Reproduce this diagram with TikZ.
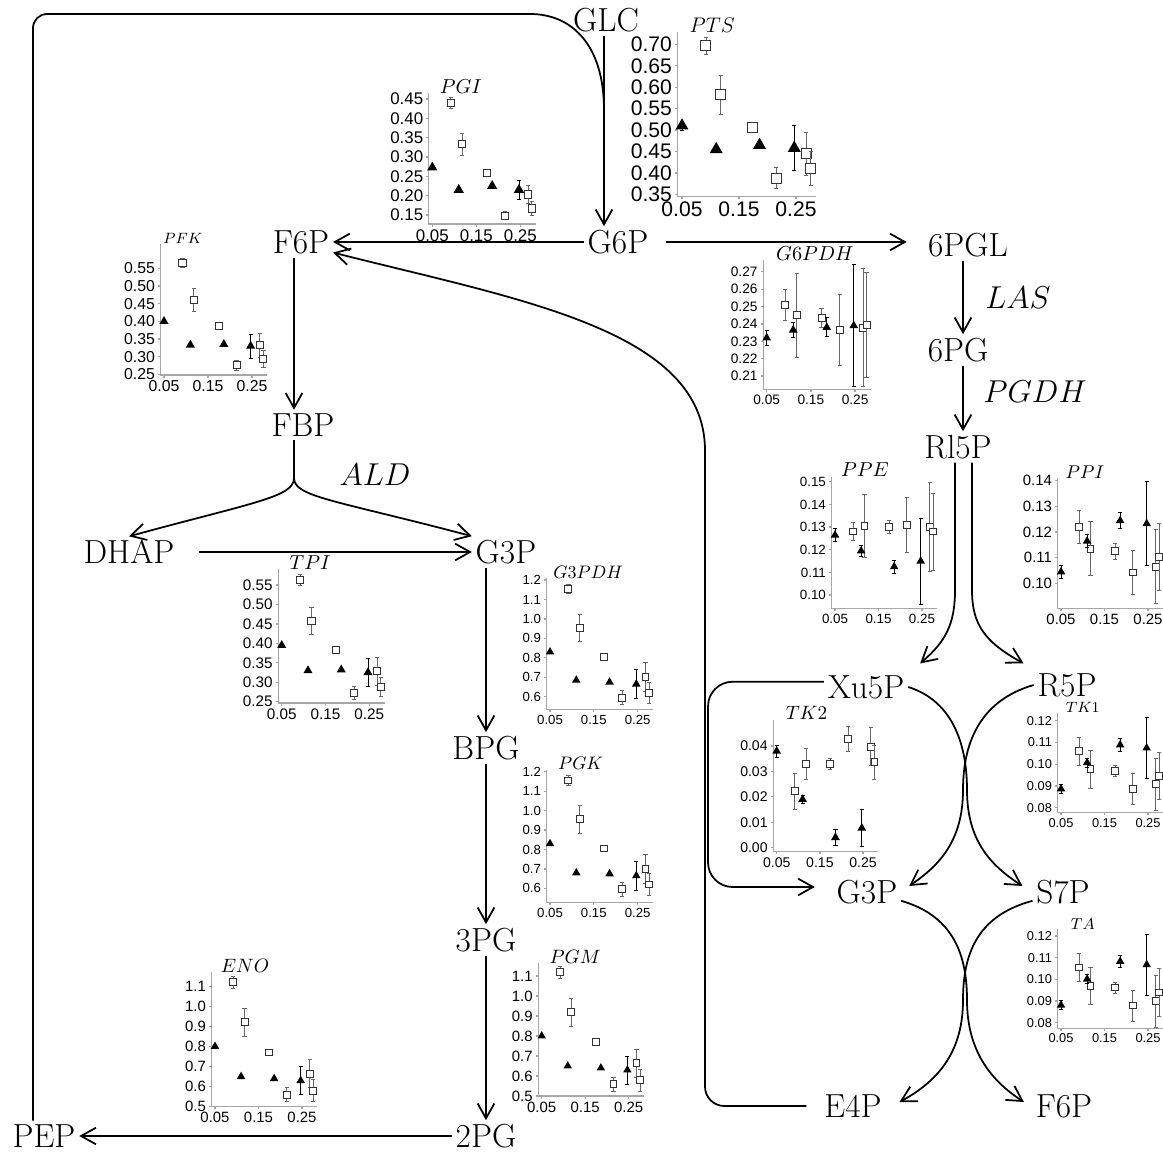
\documentclass[tikz,border=0pt]{standalone}
\usepackage{fix-cm}
\usepackage{fontspec}
\newfontfamily\lblfont{Liberation Sans}
\usetikzlibrary{arrows.meta,shapes.geometric,positioning}

% one small flux plot, drawn in its own scope (x: 0.05 -> 0, 0.1 per unit; y: data value)
\newcommand{\enzsize}[4]{\def\lblsize{#1}\def\sqsize{#2}\def\trisize{#3}\def\ttlsize{#4}}
\newcommand{\enzframe}[5]{%
  \draw[axis] (-0.08,#2) -- (-0.08,#1) -- (2.35,#1);
  \foreach \t in {#3}{%
    \draw[axis] (-0.08,\t) -- ++(-1.5pt,0);
    \node[ylbl] at (-0.08,\t) {\t};
  }
  \node[ttl] (#4) at (#5,#2) {$#4$};
}
\newcommand{\enzxlbl}[1]{%
  \foreach \u/\l in {0/0.05,1/0.15,2/0.25}{%
    \draw[axis] (\u,#1) -- ++(0,-1.5pt);
    \node[xlbl] at (\u,#1) {\l};
  }
}
\newcommand{\enzdata}[2]{%
  \foreach \u/\v/\e in {#1}{%
    \draw[sqbar] (\u,\v-\e) -- (\u,\v+\e)
      (\u,\v-\e) ++(-1.2pt,0) -- ++(2.4pt,0)
      (\u,\v+\e) ++(-1.2pt,0) -- ++(2.4pt,0);
    \node[sqmark] at (\u,\v) {};
  }
  \foreach \u/\v/\e in {#2}{%
    \draw[tribar] (\u,\v-\e) -- (\u,\v+\e)
      (\u,\v-\e) ++(-1.2pt,0) -- ++(2.4pt,0)
      (\u,\v+\e) ++(-1.2pt,0) -- ++(2.4pt,0);
    \node[trimark] at (\u,\v) {};
  }
}

\begin{document}
\begin{tikzpicture}[
    x=0.02cm, y=-0.02cm,
    met/.style={font=\fontsize{19}{22}\selectfont, inner sep=2pt},
    enz/.style={font=\fontsize{18}{20}\selectfont},
    line/.style={line width=1pt},
    flow/.style={line, -{Straight Barb[length=8.5pt,width=9.5pt]}},
    axis/.style={gray!70, line width=0.7pt},
    ylbl/.style={anchor=east, inner sep=0.5pt, xshift=-2.5pt,
                 font=\lblfont\fontsize{\lblsize}{\lblsize}\selectfont},
    xlbl/.style={anchor=north, inner sep=0.5pt, yshift=-2.5pt,
                 font=\lblfont\fontsize{\lblsize}{\lblsize}\selectfont},
    ttl/.style={anchor=base, inner sep=0pt, font=\fontsize{\ttlsize}{\ttlsize}\selectfont},
    sqmark/.style={rectangle, draw=black!80, fill=white, line width=0.55pt,
                   inner sep=0pt, minimum size=\sqsize},
    trimark/.style={regular polygon, regular polygon sides=3, fill=black,
                    inner sep=0pt, minimum size=\trisize},
    sqbar/.style={black!60, line width=0.5pt},
    tribar/.style={black, line width=0.5pt}
]
    \useasboundingbox (0,0) rectangle (1163,1155);

    % metabolites
    \node[met] (glc) at (606,20) {GLC};
    \node[met] (g6p) at (618,242) {G6P};
    \node[met] (f6p) at (301,242) {F6P};
    \node[met] (pgl) at (968,245) {6PGL};
    \node[met] (pg) at (958,350) {6PG};
    \node[met] (rl5p) at (958,447) {Rl5P};
    \node[met] (fbp) at (303,425) {FBP};
    \node[met] (dhap) at (129,552) {DHAP};
    \node[met] (g3p) at (506,552) {G3P};
    \node[met] (bpg) at (486,748) {BPG};
    \node[met] (pg3) at (486,940) {3PG};
    \node[met] (pg2) at (486,1136) {2PG};
    \node[met] (pep) at (44,1136) {PEP};
    \node[met] (xu5p) at (866,687) {Xu5P};
    \node[met] (r5p) at (1067,685) {R5P};
    \node[met] (g3pb) at (867,892) {G3P};
    \node[met] (s7p) at (1063,892) {S7P};
    \node[met] (e4p) at (853,1106) {E4P};
    \node[met] (f6pb) at (1064,1106) {F6P};

    % enzymes on the main path
    \node[enz] (las) at (1018,298) {$LAS$};
    \node[enz] (pgdh) at (1035,392) {$PGDH$};
    \node[enz] (ald) at (375,475) {$ALD$};

    % helper points
    \coordinate (corner) at (33,14);
    \coordinate (bend) at (530,14);
    \coordinate (merge) at (604,110);
    \coordinate (glyx) at (294,0);
    \coordinate (split) at (294,478);
    \coordinate (ppx) at (963,0);
    \coordinate (ppl) at (955,590);
    \coordinate (ppr) at (972,590);
    \coordinate (tkx) at (708,790);
    \coordinate (rail) at (705,470);

    % glycolysis
    \draw[flow] (glc.south -| merge) -- (g6p.north -| merge);
    \draw[line, rounded corners=8pt] (pep.north -| corner) -- (corner) -- (bend);
    \draw[line] (bend) .. controls (572,14) and (604,45) .. (merge);
    \draw[flow] (g6p) -- (f6p);
    \draw[flow, shorten <=8pt, shorten >=10pt] (g6p.east) -- (g6p.east -| pgl.west);
    \draw[flow] (f6p.south -| glyx) -- (fbp.north -| glyx);
    \draw[line] (fbp.south -| glyx) -- (split);
    \draw[flow] (split) .. controls (294,497) and (255,502) .. (dhap.north);
    \draw[flow] (split) .. controls (294,497) and (335,500) .. (g3p.north west);
    \draw[flow, shorten <=12pt] (dhap) -- (g3p);
    \draw[flow] (g3p.south -| bpg) -- (bpg);
    \draw[flow] (bpg) -- (pg3);
    \draw[flow] (pg3) -- (pg2);
    \draw[flow] (pg2) -- (pep);

    % pentose phosphate
    \draw[flow] (pgl.south -| ppx) -- (pg.north -| ppx);
    \draw[flow] (pg.south -| ppx) -- (rl5p.north -| ppx);
    \draw[flow] (rl5p.south -| ppl) -- (ppl) .. controls (955,625) and (945,642)
        .. ([shift={(12,-8)}]xu5p.north east);
    \draw[flow] (rl5p.south -| ppr) -- (ppr) .. controls (972,625) and (985,642)
        .. ([shift={(-10,-6)}]r5p.north west);
    \draw[flow] (xu5p.east) .. controls (950,700) and (967,740) .. (967,790)
        .. controls (967,840) and (990,865) .. ([shift={(-10,-6)}]s7p.west);
    \draw[flow] (r5p.west) .. controls (982,700) and (963,740) .. (963,790)
        .. controls (963,840) and (940,865) .. ([shift={(8,-6)}]g3pb.east);
    \draw[flow] ([yshift=-5pt]g3pb.east) .. controls (950,915) and (967,950) .. (967,1000)
        .. controls (967,1050) and (990,1080) .. ([shift={(-8,-4)}]f6pb.west);
    \draw[flow] ([yshift=-5pt]s7p.west) .. controls (980,915) and (963,950) .. (963,1000)
        .. controls (963,1050) and (940,1080) .. ([shift={(14,-4)}]e4p.east);
    \draw[flow, rounded corners=14pt] ([yshift=3pt]xu5p.west) -| (tkx)
        |- ([shift={(-18,-5)}]g3pb.west);
    \draw[flow, shorten <=8pt] (e4p.west) [rounded corners=11pt] -| (rail) [sharp corners]
        .. controls (705,330) and (520,300) .. ([yshift=-6pt]f6p.east);

    % PTS
    \begin{scope}[shift={(682,344.3)}, x=1.14cm, y=8.572cm]
        \enzsize{12pt}{5.7pt}{8.5pt}{12pt}
        \enzframe{0.345}{0.728}{0.35,0.40,0.45,0.50,0.55,0.60,0.65,0.70}{PTS}{0.53}
        \enzxlbl{0.345}
        \enzdata{0.42/0.697/0.02, 0.68/0.582/0.045, 1.24/0.505/0.01, 1.65/0.388/0.025,
                 2.18/0.445/0.05, 2.26/0.41/0.04}
                {0/0.51/0.01, 0.6/0.455/0, 1.36/0.465/0.008, 1.97/0.458/0.052}
    \end{scope}

    % PGI
    \begin{scope}[shift={(432.3,273)}, x=0.88cm, y=7.734cm]
        \enzsize{9.6pt}{4.2pt}{6.8pt}{11.5pt}
        \enzframe{0.127}{0.465}{0.15,0.20,0.25,0.30,0.35,0.40,0.45}{PGI}{0.65}
        \enzxlbl{0.127}
        \enzdata{0.42/0.44/0.015, 0.68/0.333/0.028, 1.24/0.258/0, 1.65/0.148/0.01,
                 2.18/0.203/0.023, 2.26/0.167/0.018}
                {0/0.273/0, 0.6/0.215/0, 1.36/0.225/0, 1.97/0.215/0.025}
    \end{scope}

    % PFK
    \begin{scope}[shift={(164,462.6)}, x=0.88cm, y=7.066cm]
        \enzsize{9pt}{4pt}{6pt}{8.5pt}
        \enzframe{0.248}{0.62}{0.25,0.30,0.35,0.40,0.45,0.50,0.55}{PFK}{0.43}
        \enzxlbl{0.248}
        \enzdata{0.42/0.565/0.013, 0.68/0.46/0.033, 1.24/0.387/0.005, 1.65/0.275/0.015,
                 2.18/0.332/0.034, 2.26/0.293/0.024}
                {0/0.40/0, 0.6/0.333/0, 1.36/0.335/0, 1.97/0.33/0.034}
    \end{scope}

    % G6PDH
    \begin{scope}[shift={(766.7,741.2)}, x=0.884cm, y=34.78cm]
        \enzsize{7.8pt}{4pt}{5.8pt}{11.5pt}
        \enzframe{0.2024}{0.2767}{0.21,0.22,0.23,0.24,0.25,0.26,0.27}{G6PDH}{1.09}
        \enzxlbl{0.2024}
        \enzdata{0.42/0.251/0.009, 0.68/0.245/0.024, 1.24/0.2435/0.0055, 1.65/0.2365/0.0205,
                 2.18/0.2378/0.034, 2.26/0.2395/0.030}
                {0/0.232/0.0045, 0.6/0.2365/0.0045, 1.36/0.238/0.0055, 1.97/0.239/0.035}
    \end{scope}

    % TPI
    \begin{scope}[shift={(281.7,798.9)}, x=0.876cm, y=7.778cm]
        \enzsize{8.7pt}{4pt}{6pt}{11.5pt}
        \enzframe{0.2466}{0.59}{0.25,0.30,0.35,0.40,0.45,0.50,0.55}{TPI}{0.65}
        \enzxlbl{0.2466}
        \enzdata{0.42/0.563/0.013, 0.68/0.457/0.035, 1.24/0.383/0, 1.65/0.272/0.017,
                 2.18/0.328/0.035, 2.26/0.288/0.025}
                {0/0.395/0, 0.6/0.33/0, 1.36/0.332/0, 1.97/0.325/0.035}
    \end{scope}

    % G3PDH
    \begin{scope}[shift={(550,813.3)}, x=0.876cm, y=3.888cm]
        \enzsize{7.5pt}{3.9pt}{5.6pt}{10.3pt}
        \enzframe{0.535}{1.21}{0.6,0.7,0.8,0.9,1.0,1.1,1.2}{G3PDH}{0.87}
        \enzxlbl{0.535}
        \enzdata{0.42/1.155/0.025, 0.68/0.955/0.07, 1.24/0.805/0, 1.65/0.595/0.035,
                 2.18/0.70/0.075, 2.26/0.62/0.055}
                {0/0.83/0, 0.6/0.685/0, 1.36/0.675/0, 1.97/0.665/0.075}
    \end{scope}

    % PGK
    \begin{scope}[shift={(550,1005)}, x=0.876cm, y=3.888cm]
        \enzsize{7.5pt}{3.9pt}{5.6pt}{10.3pt}
        \enzframe{0.526}{1.21}{0.6,0.7,0.8,0.9,1.0,1.1,1.2}{PGK}{0.7}
        \enzxlbl{0.526}
        \enzdata{0.42/1.155/0.025, 0.68/0.955/0.07, 1.24/0.805/0, 1.65/0.595/0.035,
                 2.18/0.70/0.075, 2.26/0.62/0.055}
                {0/0.83/0, 0.6/0.68/0, 1.36/0.675/0, 1.97/0.665/0.075}
    \end{scope}

    % PGM
    \begin{scope}[shift={(541.7,1196)}, x=0.87cm, y=4cm]
        \enzsize{8.5pt}{3.9pt}{5.6pt}{11pt}
        \enzframe{0.5}{1.165}{0.5,0.6,0.7,0.8,0.9,1.0,1.1}{PGM}{0.77}
        \enzxlbl{0.5}
        \enzdata{0.42/1.12/0.03, 0.68/0.92/0.07, 1.24/0.77/0, 1.65/0.56/0.035,
                 2.18/0.665/0.07, 2.26/0.58/0.055}
                {0/0.80/0, 0.6/0.65/0, 1.36/0.64/0, 1.97/0.63/0.07}
    \end{scope}

    % ENO
    \begin{scope}[shift={(215,1207.2)}, x=0.87cm, y=4.02cm]
        \enzsize{8.5pt}{3.9pt}{5.6pt}{11pt}
        \enzframe{0.5}{1.17}{0.5,0.6,0.7,0.8,0.9,1.0,1.1}{ENO}{0.69}
        \enzxlbl{0.5}
        \enzdata{0.42/1.12/0.03, 0.68/0.92/0.07, 1.24/0.77/0, 1.65/0.56/0.035,
                 2.18/0.665/0.07, 2.26/0.58/0.055}
                {0/0.80/0, 0.6/0.65/0, 1.36/0.64/0, 1.97/0.63/0.07}
    \end{scope}

    % PPE
    \begin{scope}[shift={(835,821.7)}, x=0.87cm, y=45.33cm]
        \enzsize{7.6pt}{3.8pt}{5.6pt}{11.5pt}
        \enzframe{0.0941}{0.1522}{0.10,0.11,0.12,0.13,0.14,0.15}{PPE}{0.69}
        \enzxlbl{0.0941}
        \enzdata{0.42/0.128/0.004, 0.68/0.1305/0.014, 1.24/0.130/0.003, 1.65/0.131/0.012,
                 2.18/0.130/0.0195, 2.26/0.128/0.017}
                {0/0.1265/0.003, 0.6/0.1195/0.0025, 1.36/0.1125/0.003, 1.97/0.115/0.019}
    \end{scope}

    % PPI
    \begin{scope}[shift={(1061,840)}, x=0.87cm, y=51.33cm]
        \enzsize{8.5pt}{3.8pt}{5.6pt}{10.5pt}
        \enzframe{0.0903}{0.1409}{0.10,0.11,0.12,0.13,0.14}{PPI}{0.55}
        \enzxlbl{0.0903}
        \enzdata{0.42/0.122/0.0065, 0.68/0.1135/0.0105, 1.24/0.1125/0.003, 1.65/0.1043/0.0085,
                 2.18/0.1065/0.0145, 2.26/0.1103/0.013}
                {0/0.1045/0.0025, 0.6/0.1165/0.0025, 1.36/0.1245/0.003, 1.97/0.1233/0.0165}
    \end{scope}

    % TK2
    \begin{scope}[shift={(776.7,847.7)}, x=0.864cm, y=50.83cm]
        \enzsize{8pt}{3.8pt}{5.8pt}{11pt}
        \enzframe{-0.0016}{0.0503}{0.00,0.01,0.02,0.03,0.04}{TK2}{0.69}
        \enzxlbl{-0.0016}
        \enzdata{0.42/0.0222/0.007, 0.68/0.033/0.006, 1.24/0.033/0.0022, 1.65/0.0428/0.0048,
                 2.18/0.0397/0.0075, 2.26/0.0337/0.0067}
                {0/0.038/0.0023, 0.6/0.019/0.0015, 1.36/0.004/0.003, 1.97/0.0077/0.0073}
    \end{scope}

    % TK1
    \begin{scope}[shift={(1061,981.7)}, x=0.87cm, y=43.5cm]
        \enzsize{7.3pt}{3.8pt}{5.6pt}{8.5pt}
        \enzframe{0.0777}{0.1236}{0.08,0.09,0.10,0.11,0.12}{TK1}{0.5}
        \enzxlbl{0.0777}
        \enzdata{0.42/0.106/0.0065, 0.68/0.0977/0.0087, 1.24/0.097/0.0025, 1.65/0.0886/0.0072,
                 2.18/0.0908/0.012, 2.26/0.0946/0.011}
                {0/0.0887/0.002, 0.6/0.1007/0.002, 1.36/0.1089/0.0028, 1.97/0.1075/0.014}
    \end{scope}

    % TA
    \begin{scope}[shift={(1061,1196)}, x=0.87cm, y=43.33cm]
        \enzsize{7.3pt}{3.8pt}{5.6pt}{9pt}
        \enzframe{0.0774}{0.1231}{0.08,0.09,0.10,0.11,0.12}{TA}{0.5}
        \enzxlbl{0.0774}
        \enzdata{0.42/0.1055/0.0065, 0.68/0.097/0.0087, 1.24/0.0962/0.0025, 1.65/0.0879/0.0072,
                 2.18/0.09/0.012, 2.26/0.094/0.011}
                {0/0.0881/0.002, 0.6/0.1001/0.002, 1.36/0.1083/0.0028, 1.97/0.1068/0.014}
    \end{scope}
\end{tikzpicture}
\end{document}
